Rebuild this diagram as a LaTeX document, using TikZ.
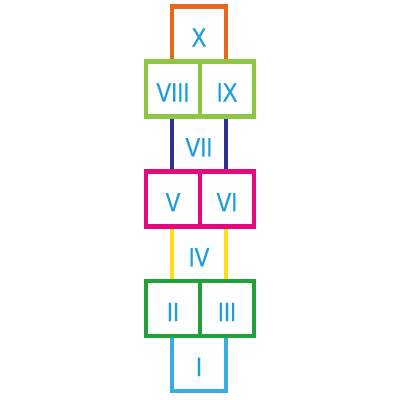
\documentclass[tikz,border=0pt]{standalone}
\usepackage{fontspec}
\newfontfamily\numfont{Liberation Sans}[FakeStretch=0.83,FakeBold=0.6]
\definecolor{cOrange}{RGB}{232,102,30}
\definecolor{cLime}{RGB}{141,198,63}
\definecolor{cNavy}{RGB}{46,49,146}
\definecolor{cMagenta}{RGB}{229,9,127}
\definecolor{cYellow}{RGB}{255,222,23}
\definecolor{cGreen}{RGB}{34,160,58}
\definecolor{cSky}{RGB}{55,174,226}
\definecolor{cText}{RGB}{27,158,218}
\tikzset{
  cell/.style={draw=#1, rectangle, line width=4.5pt, minimum width=54pt, minimum height=54.9pt,
    inner sep=0pt, outer sep=0pt, text=cText, font=\numfont\fontsize{26.5}{30}\selectfont,
    text height=25pt, text depth=0pt}
}
\begin{document}
\begin{tikzpicture}[x=1pt,y=-1pt]
\useasboundingbox (0,0) rectangle (400,400);
% single cells
\node[cell=cOrange]  (x)   at (199,34.15)  {X};
\node[cell=cNavy]    (vii) at (199,143.95) {VII};
\node[cell=cYellow]  (iv)  at (199,253.75) {IV};
\node[cell=cSky]     (i)   at (199,363.55) {I};
% double cells on top
\node[cell=cLime]    (viii) at (173,89.05) {VIII};
\node[cell=cLime]    (ix)   at (227,89.05) {IX};
\node[cell=cMagenta] (v)    at (173,198.85) {V};
\node[cell=cMagenta] (vi)   at (227,198.85) {VI};
\node[cell=cGreen]   (ii)   at (173,308.65) {II};
\node[cell=cGreen]   (iii)  at (227,308.65) {III};
\end{tikzpicture}
\end{document}
